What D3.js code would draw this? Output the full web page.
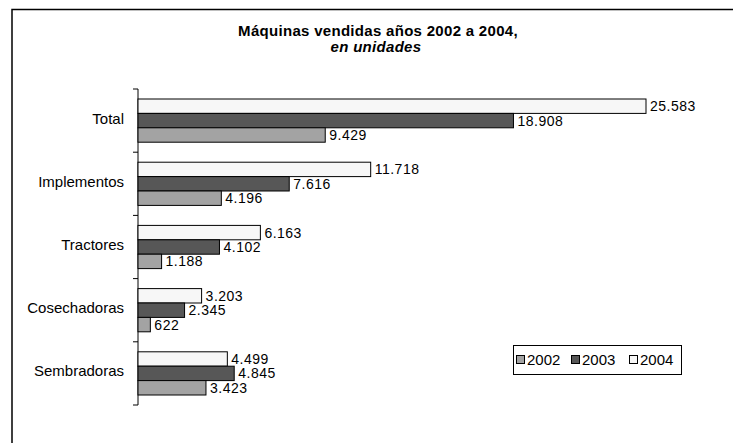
<!DOCTYPE html>
<html><head><meta charset="utf-8">
<script src="https://cdn.jsdelivr.net/npm/d3@7"></script>
<style>body{margin:0;background:#fff}svg{display:block;font-family:"Liberation Sans",Arial,sans-serif}</style>
</head><body>
<svg id="c" width="733" height="443"></svg>
<script>
const categories = ["Total","Implementos","Tractores","Cosechadoras","Sembradoras"];
const series = ["2004","2003","2002"];
const values2002 = [9429, 4196, 1188, 622, 3423];
const values2003 = [18908, 7616, 4102, 2345, 4845];
const values2004 = [25583, 11718, 6163, 3203, 4499];
const legendLabels = ["2002","2003","2004"];
const colors = {"2002":"#a3a3a3","2003":"#575757","2004":"#f7f7f7"};
const dataBySeries = {"2002":values2002,"2003":values2003,"2004":values2004};

const svg = d3.select("#c");
const fmt = d3.formatLocale({decimal:",",thousands:".",grouping:[3],currency:["",""]}).format(",d");

// frame
svg.append("path").attr("d","M12,450V9.5H740").attr("fill","none").attr("stroke","#000").attr("stroke-width",1.5);

// title
svg.append("text").attr("x",378).attr("y",36).attr("text-anchor","middle")
  .attr("font-size",15).attr("font-weight","bold").attr("letter-spacing",0.3).text("Máquinas vendidas años 2002 a 2004,");
svg.append("text").attr("x",376).attr("y",52).attr("text-anchor","middle")
  .attr("font-size",15).attr("font-weight","bold").attr("font-style","italic").attr("letter-spacing",0.3).text("en unidades");

const x = d3.scaleLinear().domain([0,25583]).range([138,646]);
const y = d3.scaleBand().domain(categories).range([89,405]).paddingInner(0).paddingOuter(0);
const inner = d3.scaleBand().domain(series).range([10, y.bandwidth()-10]).padding(0);

// axis
svg.append("line").attr("x1",138).attr("x2",138).attr("y1",89).attr("y2",405).attr("stroke","#000");
const bounds = [...categories.map(c=>y(c)), 405];
svg.selectAll(".tk").data(bounds).join("line").attr("x1",133).attr("x2",138)
  .attr("y1",d=>d).attr("y2",d=>d).attr("stroke","#000");

svg.selectAll(".cat").data(categories).join("text")
  .attr("x",124).attr("y",c=>y(c)+y.bandwidth()/2+3).attr("text-anchor","end")
  .attr("font-size",15).attr("fill","#000").text(c=>c);

series.forEach(s=>{
  const vals = dataBySeries[s];
  const g = svg.append("g");
  g.selectAll("rect").data(categories).join("rect")
    .attr("x",x(0)).attr("y",(c)=>y(c)+inner(s))
    .attr("width",(c,i)=>x(vals[i])-x(0)).attr("height",inner.bandwidth())
    .attr("fill",colors[s]).attr("stroke","#000").attr("stroke-width",1);
  g.selectAll("text").data(categories).join("text")
    .attr("x",(c,i)=>x(vals[i])+4).attr("y",c=>y(c)+inner(s)+inner.bandwidth()/2+5)
    .attr("font-size",14).attr("letter-spacing",0.5).attr("fill","#000").text((c,i)=>fmt(vals[i]));
});

// legend
const lg = svg.append("g");
lg.append("rect").attr("x",513.5).attr("y",345.5).attr("width",168).attr("height",29)
  .attr("fill","#fff").attr("stroke","#000");
const lx = [516, 571, 629];
legendLabels.forEach((s,i)=>{
  lg.append("rect").attr("x",lx[i]+0.5).attr("y",355.5).attr("width",8).attr("height",8)
    .attr("fill",colors[s]).attr("stroke","#000");
  lg.append("text").attr("x",lx[i]+11).attr("y",365).attr("font-size",15).text(s);
});
</script>
</body></html>
